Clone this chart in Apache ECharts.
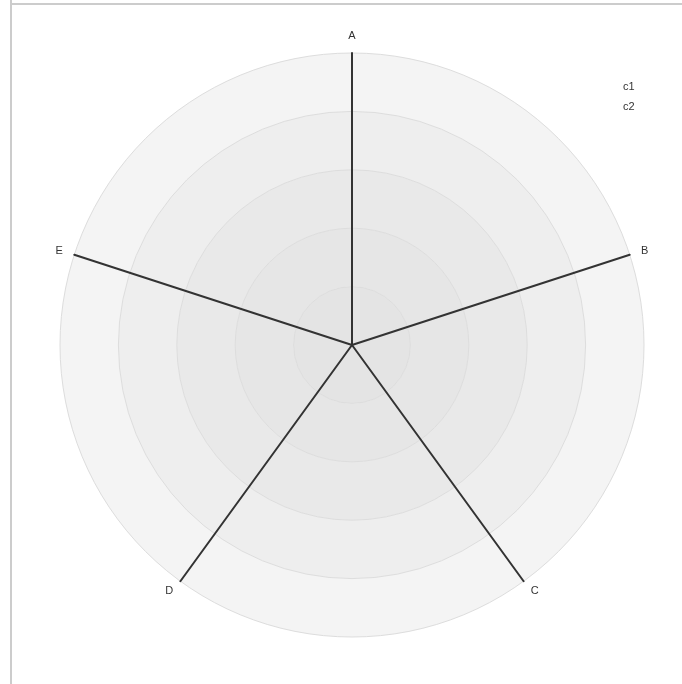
<!DOCTYPE html>
<html>
<head>
<meta charset="utf-8">
<script src="https://cdn.jsdelivr.net/npm/echarts@6/dist/echarts.min.js"></script>
<style>
  html, body { margin: 0; padding: 0; background: #fff; }
  #chart { width: 682px; height: 684px; }
</style>
</head>
<body>
<div id="chart"></div>
<script>
// Radar indicators and series
const indicatorNames = ['A', 'B', 'C', 'D', 'E'];
const indicatorMax = [100, 100, 100, 100, 100];
const seriesNames = ['c1', 'c2'];
const seriesC1 = [];
const seriesC2 = [];

// Ring fills, from the centre outward
const ringColors = ['#e4e4e4', '#e6e6e6', '#e9e9e9', '#eeeeee', '#f4f4f4'];

// Radar axes run counter-clockwise; lay the indicators out clockwise from the top
const order = [0].concat(indicatorNames.map((_, i) => i).slice(1).reverse());
const indicators = order.map(i => ({ name: indicatorNames[i], max: indicatorMax[i] }));
const toAxisOrder = vals => vals.length ? order.map(i => vals[i]) : [];

const chart = echarts.init(document.getElementById('chart'), null, { renderer: 'canvas' });

chart.setOption({
  backgroundColor: '#ffffff',
  animation: false,
  graphic: [
    { type: 'line', shape: { x1: 11, y1: 0, x2: 11, y2: 684 }, style: { stroke: '#cccccc', lineWidth: 2 } },
    { type: 'line', shape: { x1: 10, y1: 4, x2: 682, y2: 4 }, style: { stroke: '#cccccc', lineWidth: 2 } }
  ],
  legend: {
    orient: 'vertical',
    left: 613,
    top: 76,
    itemGap: 9,
    itemWidth: 0,
    itemHeight: 0,
    icon: 'none',
    textStyle: { color: '#333', fontSize: 11, fontFamily: 'sans-serif' },
    data: seriesNames
  },
  radar: {
    center: [352, 345],
    radius: 292,
    shape: 'circle',
    splitNumber: 5,
    startAngle: 90,
    indicator: indicators,
    axisName: { color: '#333', fontSize: 11, fontFamily: 'sans-serif' },
    nameGap: 12,
    axisLine: { lineStyle: { color: '#333333', width: 2 } },
    splitLine: { lineStyle: { color: '#dddddd', width: 1 } },
    splitArea: { show: true, areaStyle: { color: ringColors } }
  },
  series: [{
    type: 'radar',
    symbol: 'none',
    data: [
      { name: seriesNames[0], value: toAxisOrder(seriesC1) },
      { name: seriesNames[1], value: toAxisOrder(seriesC2) }
    ]
  }]
});
</script>
</body>
</html>
